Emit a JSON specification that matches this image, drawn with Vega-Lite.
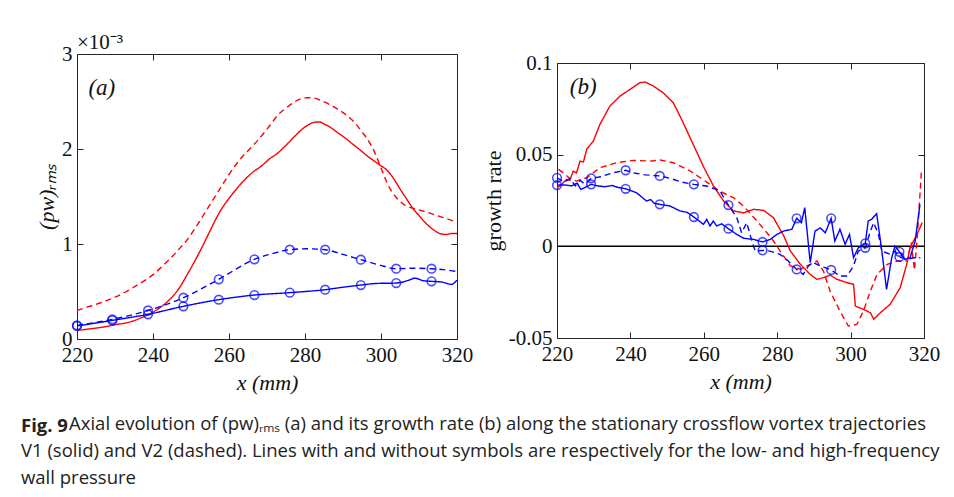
{
  "$schema": "https://vega.github.io/schema/vega-lite/v6.json",
  "padding": {"left": 21, "top": 31, "right": 5, "bottom": 5},
  "autosize": {"type": "pad"},
  "background": "white",
  "config": {
    "font": "Liberation Serif",
    "view": {"stroke": "#262626", "strokeWidth": 1},
    "axis": {
      "grid": false, "domain": false,
      "tickColor": "#262626", "tickSize": -6, "tickWidth": 1,
      "labelFont": "Liberation Serif", "labelFontSize": 21, "labelColor": "#111", "labelFlush": false,
      "titleFont": "Liberation Serif", "titleFontSize": 22, "titleFontWeight": "normal", "titleColor": "#111"
    },
    "axisX": {"labelPadding": 11, "titlePadding": 7},
    "axisY": {"labelPadding": 11, "titlePadding": 3}
  },
  "datasets": {
    "a_lines": [
      {"x_mm": 220, "prms_1e3": 0.09, "vortex": "V1", "frequency": "high"},
      {"x_mm": 223, "prms_1e3": 0.105, "vortex": "V1", "frequency": "high"},
      {"x_mm": 226.9, "prms_1e3": 0.126, "vortex": "V1", "frequency": "high"},
      {"x_mm": 230, "prms_1e3": 0.15, "vortex": "V1", "frequency": "high"},
      {"x_mm": 234, "prms_1e3": 0.18, "vortex": "V1", "frequency": "high"},
      {"x_mm": 237, "prms_1e3": 0.225, "vortex": "V1", "frequency": "high"},
      {"x_mm": 240.1, "prms_1e3": 0.285, "vortex": "V1", "frequency": "high"},
      {"x_mm": 242.5, "prms_1e3": 0.35, "vortex": "V1", "frequency": "high"},
      {"x_mm": 244.5, "prms_1e3": 0.42, "vortex": "V1", "frequency": "high"},
      {"x_mm": 246.8, "prms_1e3": 0.53, "vortex": "V1", "frequency": "high"},
      {"x_mm": 248.9, "prms_1e3": 0.67, "vortex": "V1", "frequency": "high"},
      {"x_mm": 251, "prms_1e3": 0.82, "vortex": "V1", "frequency": "high"},
      {"x_mm": 253.2, "prms_1e3": 0.99, "vortex": "V1", "frequency": "high"},
      {"x_mm": 255.4, "prms_1e3": 1.17, "vortex": "V1", "frequency": "high"},
      {"x_mm": 257.6, "prms_1e3": 1.34, "vortex": "V1", "frequency": "high"},
      {"x_mm": 260, "prms_1e3": 1.48, "vortex": "V1", "frequency": "high"},
      {"x_mm": 262, "prms_1e3": 1.58, "vortex": "V1", "frequency": "high"},
      {"x_mm": 264.2, "prms_1e3": 1.68, "vortex": "V1", "frequency": "high"},
      {"x_mm": 266.4, "prms_1e3": 1.76, "vortex": "V1", "frequency": "high"},
      {"x_mm": 268.5, "prms_1e3": 1.82, "vortex": "V1", "frequency": "high"},
      {"x_mm": 270.8, "prms_1e3": 1.9, "vortex": "V1", "frequency": "high"},
      {"x_mm": 272.6, "prms_1e3": 1.95, "vortex": "V1", "frequency": "high"},
      {"x_mm": 275, "prms_1e3": 2.04, "vortex": "V1", "frequency": "high"},
      {"x_mm": 277.2, "prms_1e3": 2.13, "vortex": "V1", "frequency": "high"},
      {"x_mm": 279, "prms_1e3": 2.2, "vortex": "V1", "frequency": "high"},
      {"x_mm": 280.7, "prms_1e3": 2.25, "vortex": "V1", "frequency": "high"},
      {"x_mm": 282.3, "prms_1e3": 2.28, "vortex": "V1", "frequency": "high"},
      {"x_mm": 283.7, "prms_1e3": 2.285, "vortex": "V1", "frequency": "high"},
      {"x_mm": 285.2, "prms_1e3": 2.26, "vortex": "V1", "frequency": "high"},
      {"x_mm": 286.6, "prms_1e3": 2.23, "vortex": "V1", "frequency": "high"},
      {"x_mm": 288.3, "prms_1e3": 2.18, "vortex": "V1", "frequency": "high"},
      {"x_mm": 290.1, "prms_1e3": 2.13, "vortex": "V1", "frequency": "high"},
      {"x_mm": 292.3, "prms_1e3": 2.06, "vortex": "V1", "frequency": "high"},
      {"x_mm": 294.5, "prms_1e3": 1.99, "vortex": "V1", "frequency": "high"},
      {"x_mm": 296.3, "prms_1e3": 1.93, "vortex": "V1", "frequency": "high"},
      {"x_mm": 298, "prms_1e3": 1.88, "vortex": "V1", "frequency": "high"},
      {"x_mm": 299.7, "prms_1e3": 1.83, "vortex": "V1", "frequency": "high"},
      {"x_mm": 301.5, "prms_1e3": 1.78, "vortex": "V1", "frequency": "high"},
      {"x_mm": 303.3, "prms_1e3": 1.69, "vortex": "V1", "frequency": "high"},
      {"x_mm": 305, "prms_1e3": 1.58, "vortex": "V1", "frequency": "high"},
      {"x_mm": 306.8, "prms_1e3": 1.47, "vortex": "V1", "frequency": "high"},
      {"x_mm": 308.5, "prms_1e3": 1.37, "vortex": "V1", "frequency": "high"},
      {"x_mm": 310.2, "prms_1e3": 1.29, "vortex": "V1", "frequency": "high"},
      {"x_mm": 312, "prms_1e3": 1.21, "vortex": "V1", "frequency": "high"},
      {"x_mm": 313.8, "prms_1e3": 1.15, "vortex": "V1", "frequency": "high"},
      {"x_mm": 315.5, "prms_1e3": 1.11, "vortex": "V1", "frequency": "high"},
      {"x_mm": 317.3, "prms_1e3": 1.1, "vortex": "V1", "frequency": "high"},
      {"x_mm": 318.5, "prms_1e3": 1.11, "vortex": "V1", "frequency": "high"},
      {"x_mm": 320, "prms_1e3": 1.11, "vortex": "V1", "frequency": "high"},

      {"x_mm": 220, "prms_1e3": 0.3, "vortex": "V2", "frequency": "high"},
      {"x_mm": 223, "prms_1e3": 0.34, "vortex": "V2", "frequency": "high"},
      {"x_mm": 226.9, "prms_1e3": 0.39, "vortex": "V2", "frequency": "high"},
      {"x_mm": 230, "prms_1e3": 0.44, "vortex": "V2", "frequency": "high"},
      {"x_mm": 233, "prms_1e3": 0.5, "vortex": "V2", "frequency": "high"},
      {"x_mm": 235.7, "prms_1e3": 0.565, "vortex": "V2", "frequency": "high"},
      {"x_mm": 238, "prms_1e3": 0.62, "vortex": "V2", "frequency": "high"},
      {"x_mm": 240.1, "prms_1e3": 0.68, "vortex": "V2", "frequency": "high"},
      {"x_mm": 242.3, "prms_1e3": 0.76, "vortex": "V2", "frequency": "high"},
      {"x_mm": 244.5, "prms_1e3": 0.845, "vortex": "V2", "frequency": "high"},
      {"x_mm": 246.7, "prms_1e3": 0.94, "vortex": "V2", "frequency": "high"},
      {"x_mm": 248.9, "prms_1e3": 1.04, "vortex": "V2", "frequency": "high"},
      {"x_mm": 251, "prms_1e3": 1.16, "vortex": "V2", "frequency": "high"},
      {"x_mm": 253.2, "prms_1e3": 1.3, "vortex": "V2", "frequency": "high"},
      {"x_mm": 255.4, "prms_1e3": 1.44, "vortex": "V2", "frequency": "high"},
      {"x_mm": 257.6, "prms_1e3": 1.58, "vortex": "V2", "frequency": "high"},
      {"x_mm": 259.8, "prms_1e3": 1.72, "vortex": "V2", "frequency": "high"},
      {"x_mm": 262, "prms_1e3": 1.845, "vortex": "V2", "frequency": "high"},
      {"x_mm": 264.2, "prms_1e3": 1.95, "vortex": "V2", "frequency": "high"},
      {"x_mm": 266.4, "prms_1e3": 2.04, "vortex": "V2", "frequency": "high"},
      {"x_mm": 268.6, "prms_1e3": 2.14, "vortex": "V2", "frequency": "high"},
      {"x_mm": 270.8, "prms_1e3": 2.25, "vortex": "V2", "frequency": "high"},
      {"x_mm": 272.8, "prms_1e3": 2.355, "vortex": "V2", "frequency": "high"},
      {"x_mm": 275, "prms_1e3": 2.43, "vortex": "V2", "frequency": "high"},
      {"x_mm": 277.2, "prms_1e3": 2.495, "vortex": "V2", "frequency": "high"},
      {"x_mm": 279, "prms_1e3": 2.53, "vortex": "V2", "frequency": "high"},
      {"x_mm": 280.7, "prms_1e3": 2.54, "vortex": "V2", "frequency": "high"},
      {"x_mm": 282.5, "prms_1e3": 2.535, "vortex": "V2", "frequency": "high"},
      {"x_mm": 284.2, "prms_1e3": 2.51, "vortex": "V2", "frequency": "high"},
      {"x_mm": 286.4, "prms_1e3": 2.47, "vortex": "V2", "frequency": "high"},
      {"x_mm": 288.6, "prms_1e3": 2.42, "vortex": "V2", "frequency": "high"},
      {"x_mm": 290.8, "prms_1e3": 2.36, "vortex": "V2", "frequency": "high"},
      {"x_mm": 293, "prms_1e3": 2.28, "vortex": "V2", "frequency": "high"},
      {"x_mm": 295, "prms_1e3": 2.18, "vortex": "V2", "frequency": "high"},
      {"x_mm": 297.1, "prms_1e3": 2.06, "vortex": "V2", "frequency": "high"},
      {"x_mm": 298.5, "prms_1e3": 1.95, "vortex": "V2", "frequency": "high"},
      {"x_mm": 299.7, "prms_1e3": 1.83, "vortex": "V2", "frequency": "high"},
      {"x_mm": 301, "prms_1e3": 1.7, "vortex": "V2", "frequency": "high"},
      {"x_mm": 302.4, "prms_1e3": 1.58, "vortex": "V2", "frequency": "high"},
      {"x_mm": 304, "prms_1e3": 1.49, "vortex": "V2", "frequency": "high"},
      {"x_mm": 305.9, "prms_1e3": 1.42, "vortex": "V2", "frequency": "high"},
      {"x_mm": 308, "prms_1e3": 1.38, "vortex": "V2", "frequency": "high"},
      {"x_mm": 310.3, "prms_1e3": 1.355, "vortex": "V2", "frequency": "high"},
      {"x_mm": 312.5, "prms_1e3": 1.33, "vortex": "V2", "frequency": "high"},
      {"x_mm": 314.7, "prms_1e3": 1.3, "vortex": "V2", "frequency": "high"},
      {"x_mm": 317, "prms_1e3": 1.27, "vortex": "V2", "frequency": "high"},
      {"x_mm": 320, "prms_1e3": 1.23, "vortex": "V2", "frequency": "high"},

      {"x_mm": 220, "prms_1e3": 0.137, "vortex": "V1", "frequency": "low"},
      {"x_mm": 229.3, "prms_1e3": 0.196, "vortex": "V1", "frequency": "low"},
      {"x_mm": 238.7, "prms_1e3": 0.26, "vortex": "V1", "frequency": "low"},
      {"x_mm": 248, "prms_1e3": 0.344, "vortex": "V1", "frequency": "low"},
      {"x_mm": 257.3, "prms_1e3": 0.414, "vortex": "V1", "frequency": "low"},
      {"x_mm": 266.7, "prms_1e3": 0.463, "vortex": "V1", "frequency": "low"},
      {"x_mm": 276, "prms_1e3": 0.488, "vortex": "V1", "frequency": "low"},
      {"x_mm": 285.3, "prms_1e3": 0.519, "vortex": "V1", "frequency": "low"},
      {"x_mm": 290, "prms_1e3": 0.545, "vortex": "V1", "frequency": "low"},
      {"x_mm": 294.7, "prms_1e3": 0.568, "vortex": "V1", "frequency": "low"},
      {"x_mm": 299, "prms_1e3": 0.585, "vortex": "V1", "frequency": "low"},
      {"x_mm": 304, "prms_1e3": 0.589, "vortex": "V1", "frequency": "low"},
      {"x_mm": 307, "prms_1e3": 0.615, "vortex": "V1", "frequency": "low"},
      {"x_mm": 309, "prms_1e3": 0.64, "vortex": "V1", "frequency": "low"},
      {"x_mm": 311, "prms_1e3": 0.615, "vortex": "V1", "frequency": "low"},
      {"x_mm": 313.3, "prms_1e3": 0.607, "vortex": "V1", "frequency": "low"},
      {"x_mm": 316, "prms_1e3": 0.6, "vortex": "V1", "frequency": "low"},
      {"x_mm": 318.5, "prms_1e3": 0.575, "vortex": "V1", "frequency": "low"},
      {"x_mm": 320, "prms_1e3": 0.62, "vortex": "V1", "frequency": "low"},

      {"x_mm": 220, "prms_1e3": 0.144, "vortex": "V2", "frequency": "low"},
      {"x_mm": 229.3, "prms_1e3": 0.207, "vortex": "V2", "frequency": "low"},
      {"x_mm": 238.7, "prms_1e3": 0.3, "vortex": "V2", "frequency": "low"},
      {"x_mm": 248, "prms_1e3": 0.435, "vortex": "V2", "frequency": "low"},
      {"x_mm": 257.3, "prms_1e3": 0.628, "vortex": "V2", "frequency": "low"},
      {"x_mm": 266.7, "prms_1e3": 0.839, "vortex": "V2", "frequency": "low"},
      {"x_mm": 271.5, "prms_1e3": 0.9, "vortex": "V2", "frequency": "low"},
      {"x_mm": 276, "prms_1e3": 0.94, "vortex": "V2", "frequency": "low"},
      {"x_mm": 280.5, "prms_1e3": 0.95, "vortex": "V2", "frequency": "low"},
      {"x_mm": 285.3, "prms_1e3": 0.94, "vortex": "V2", "frequency": "low"},
      {"x_mm": 290, "prms_1e3": 0.89, "vortex": "V2", "frequency": "low"},
      {"x_mm": 294.7, "prms_1e3": 0.835, "vortex": "V2", "frequency": "low"},
      {"x_mm": 299.5, "prms_1e3": 0.78, "vortex": "V2", "frequency": "low"},
      {"x_mm": 304, "prms_1e3": 0.74, "vortex": "V2", "frequency": "low"},
      {"x_mm": 308.5, "prms_1e3": 0.745, "vortex": "V2", "frequency": "low"},
      {"x_mm": 313.3, "prms_1e3": 0.74, "vortex": "V2", "frequency": "low"},
      {"x_mm": 316.5, "prms_1e3": 0.73, "vortex": "V2", "frequency": "low"},
      {"x_mm": 320, "prms_1e3": 0.71, "vortex": "V2", "frequency": "low"}
    ],
    "a_markers": [
      {"x_mm": 220, "prms_1e3": 0.137, "vortex": "V1"},
      {"x_mm": 229.3, "prms_1e3": 0.196, "vortex": "V1"},
      {"x_mm": 238.7, "prms_1e3": 0.26, "vortex": "V1"},
      {"x_mm": 248, "prms_1e3": 0.344, "vortex": "V1"},
      {"x_mm": 257.3, "prms_1e3": 0.414, "vortex": "V1"},
      {"x_mm": 266.7, "prms_1e3": 0.463, "vortex": "V1"},
      {"x_mm": 276, "prms_1e3": 0.488, "vortex": "V1"},
      {"x_mm": 285.3, "prms_1e3": 0.519, "vortex": "V1"},
      {"x_mm": 294.7, "prms_1e3": 0.568, "vortex": "V1"},
      {"x_mm": 304, "prms_1e3": 0.589, "vortex": "V1"},
      {"x_mm": 313.3, "prms_1e3": 0.607, "vortex": "V1"},
      {"x_mm": 220, "prms_1e3": 0.144, "vortex": "V2"},
      {"x_mm": 229.3, "prms_1e3": 0.207, "vortex": "V2"},
      {"x_mm": 238.7, "prms_1e3": 0.3, "vortex": "V2"},
      {"x_mm": 248, "prms_1e3": 0.435, "vortex": "V2"},
      {"x_mm": 257.3, "prms_1e3": 0.628, "vortex": "V2"},
      {"x_mm": 266.7, "prms_1e3": 0.839, "vortex": "V2"},
      {"x_mm": 276, "prms_1e3": 0.94, "vortex": "V2"},
      {"x_mm": 285.3, "prms_1e3": 0.94, "vortex": "V2"},
      {"x_mm": 294.7, "prms_1e3": 0.835, "vortex": "V2"},
      {"x_mm": 304, "prms_1e3": 0.74, "vortex": "V2"},
      {"x_mm": 313.3, "prms_1e3": 0.74, "vortex": "V2"}
    ],
    "a_label": [{"x_mm": 223, "prms_1e3": 2.64, "label": "(a)"}],
    "b_lines": [
      {"x_mm": 220, "rate": 0.032, "vortex": "V1", "frequency": "high"},
      {"x_mm": 220.8, "rate": 0.0329, "vortex": "V1", "frequency": "high"},
      {"x_mm": 222.6, "rate": 0.0365, "vortex": "V1", "frequency": "high"},
      {"x_mm": 223.5, "rate": 0.036, "vortex": "V1", "frequency": "high"},
      {"x_mm": 224.4, "rate": 0.041, "vortex": "V1", "frequency": "high"},
      {"x_mm": 225.3, "rate": 0.04, "vortex": "V1", "frequency": "high"},
      {"x_mm": 226.3, "rate": 0.0465, "vortex": "V1", "frequency": "high"},
      {"x_mm": 227.2, "rate": 0.046, "vortex": "V1", "frequency": "high"},
      {"x_mm": 228.1, "rate": 0.053, "vortex": "V1", "frequency": "high"},
      {"x_mm": 229.9, "rate": 0.0574, "vortex": "V1", "frequency": "high"},
      {"x_mm": 231.7, "rate": 0.0665, "vortex": "V1", "frequency": "high"},
      {"x_mm": 234.4, "rate": 0.0765, "vortex": "V1", "frequency": "high"},
      {"x_mm": 237.2, "rate": 0.082, "vortex": "V1", "frequency": "high"},
      {"x_mm": 239.9, "rate": 0.0856, "vortex": "V1", "frequency": "high"},
      {"x_mm": 242.6, "rate": 0.0893, "vortex": "V1", "frequency": "high"},
      {"x_mm": 244, "rate": 0.0896, "vortex": "V1", "frequency": "high"},
      {"x_mm": 246.2, "rate": 0.0875, "vortex": "V1", "frequency": "high"},
      {"x_mm": 248.9, "rate": 0.0838, "vortex": "V1", "frequency": "high"},
      {"x_mm": 251.7, "rate": 0.0783, "vortex": "V1", "frequency": "high"},
      {"x_mm": 254.4, "rate": 0.0674, "vortex": "V1", "frequency": "high"},
      {"x_mm": 257.1, "rate": 0.0556, "vortex": "V1", "frequency": "high"},
      {"x_mm": 259.9, "rate": 0.0435, "vortex": "V1", "frequency": "high"},
      {"x_mm": 262.6, "rate": 0.033, "vortex": "V1", "frequency": "high"},
      {"x_mm": 265.4, "rate": 0.0247, "vortex": "V1", "frequency": "high"},
      {"x_mm": 268.1, "rate": 0.0193, "vortex": "V1", "frequency": "high"},
      {"x_mm": 270.8, "rate": 0.0183, "vortex": "V1", "frequency": "high"},
      {"x_mm": 273.6, "rate": 0.0202, "vortex": "V1", "frequency": "high"},
      {"x_mm": 276.3, "rate": 0.0196, "vortex": "V1", "frequency": "high"},
      {"x_mm": 279, "rate": 0.0156, "vortex": "V1", "frequency": "high"},
      {"x_mm": 281.8, "rate": 0.0056, "vortex": "V1", "frequency": "high"},
      {"x_mm": 283.6, "rate": -0.0026, "vortex": "V1", "frequency": "high"},
      {"x_mm": 286.3, "rate": -0.0098, "vortex": "V1", "frequency": "high"},
      {"x_mm": 289, "rate": -0.0153, "vortex": "V1", "frequency": "high"},
      {"x_mm": 290.8, "rate": -0.018, "vortex": "V1", "frequency": "high"},
      {"x_mm": 292.6, "rate": -0.0171, "vortex": "V1", "frequency": "high"},
      {"x_mm": 294.4, "rate": -0.0157, "vortex": "V1", "frequency": "high"},
      {"x_mm": 296.3, "rate": -0.018, "vortex": "V1", "frequency": "high"},
      {"x_mm": 299, "rate": -0.0198, "vortex": "V1", "frequency": "high"},
      {"x_mm": 300.8, "rate": -0.0207, "vortex": "V1", "frequency": "high"},
      {"x_mm": 301.3, "rate": -0.0326, "vortex": "V1", "frequency": "high"},
      {"x_mm": 303.5, "rate": -0.0344, "vortex": "V1", "frequency": "high"},
      {"x_mm": 305.4, "rate": -0.0362, "vortex": "V1", "frequency": "high"},
      {"x_mm": 306.3, "rate": -0.0398, "vortex": "V1", "frequency": "high"},
      {"x_mm": 308.1, "rate": -0.0362, "vortex": "V1", "frequency": "high"},
      {"x_mm": 310.8, "rate": -0.0316, "vortex": "V1", "frequency": "high"},
      {"x_mm": 313.5, "rate": -0.0226, "vortex": "V1", "frequency": "high"},
      {"x_mm": 315.3, "rate": -0.0098, "vortex": "V1", "frequency": "high"},
      {"x_mm": 316.2, "rate": -0.0008, "vortex": "V1", "frequency": "high"},
      {"x_mm": 317.6, "rate": 0.0047, "vortex": "V1", "frequency": "high"},
      {"x_mm": 318.9, "rate": 0.0101, "vortex": "V1", "frequency": "high"},
      {"x_mm": 319.5, "rate": 0.013, "vortex": "V1", "frequency": "high"},

      {"x_mm": 220.4, "rate": 0.042, "vortex": "V2", "frequency": "high"},
      {"x_mm": 221.8, "rate": 0.04, "vortex": "V2", "frequency": "high"},
      {"x_mm": 223.5, "rate": 0.037, "vortex": "V2", "frequency": "high"},
      {"x_mm": 225.3, "rate": 0.0356, "vortex": "V2", "frequency": "high"},
      {"x_mm": 228.1, "rate": 0.0374, "vortex": "V2", "frequency": "high"},
      {"x_mm": 231.7, "rate": 0.0429, "vortex": "V2", "frequency": "high"},
      {"x_mm": 236.3, "rate": 0.0456, "vortex": "V2", "frequency": "high"},
      {"x_mm": 240.8, "rate": 0.0469, "vortex": "V2", "frequency": "high"},
      {"x_mm": 245.4, "rate": 0.0465, "vortex": "V2", "frequency": "high"},
      {"x_mm": 248.1, "rate": 0.0471, "vortex": "V2", "frequency": "high"},
      {"x_mm": 251.7, "rate": 0.0456, "vortex": "V2", "frequency": "high"},
      {"x_mm": 256.3, "rate": 0.0411, "vortex": "V2", "frequency": "high"},
      {"x_mm": 260.8, "rate": 0.035, "vortex": "V2", "frequency": "high"},
      {"x_mm": 264.4, "rate": 0.03, "vortex": "V2", "frequency": "high"},
      {"x_mm": 268.1, "rate": 0.0265, "vortex": "V2", "frequency": "high"},
      {"x_mm": 270.8, "rate": 0.022, "vortex": "V2", "frequency": "high"},
      {"x_mm": 274.5, "rate": 0.0138, "vortex": "V2", "frequency": "high"},
      {"x_mm": 277.2, "rate": 0.0074, "vortex": "V2", "frequency": "high"},
      {"x_mm": 279, "rate": 0.0029, "vortex": "V2", "frequency": "high"},
      {"x_mm": 280.8, "rate": -0.0026, "vortex": "V2", "frequency": "high"},
      {"x_mm": 283.6, "rate": -0.0107, "vortex": "V2", "frequency": "high"},
      {"x_mm": 286.3, "rate": -0.0125, "vortex": "V2", "frequency": "high"},
      {"x_mm": 289, "rate": -0.0098, "vortex": "V2", "frequency": "high"},
      {"x_mm": 290.8, "rate": -0.008, "vortex": "V2", "frequency": "high"},
      {"x_mm": 292.6, "rate": -0.0135, "vortex": "V2", "frequency": "high"},
      {"x_mm": 294.4, "rate": -0.0244, "vortex": "V2", "frequency": "high"},
      {"x_mm": 297.1, "rate": -0.0353, "vortex": "V2", "frequency": "high"},
      {"x_mm": 299.4, "rate": -0.0435, "vortex": "V2", "frequency": "high"},
      {"x_mm": 301.7, "rate": -0.0426, "vortex": "V2", "frequency": "high"},
      {"x_mm": 303.5, "rate": -0.0353, "vortex": "V2", "frequency": "high"},
      {"x_mm": 305.4, "rate": -0.0244, "vortex": "V2", "frequency": "high"},
      {"x_mm": 307.2, "rate": -0.0153, "vortex": "V2", "frequency": "high"},
      {"x_mm": 310, "rate": -0.0098, "vortex": "V2", "frequency": "high"},
      {"x_mm": 312.7, "rate": -0.008, "vortex": "V2", "frequency": "high"},
      {"x_mm": 315.4, "rate": -0.008, "vortex": "V2", "frequency": "high"},
      {"x_mm": 316.5, "rate": 0.002, "vortex": "V2", "frequency": "high"},
      {"x_mm": 317.4, "rate": -0.013, "vortex": "V2", "frequency": "high"},
      {"x_mm": 318.2, "rate": 0.006, "vortex": "V2", "frequency": "high"},
      {"x_mm": 319.3, "rate": 0.041, "vortex": "V2", "frequency": "high"},

      {"x_mm": 220, "rate": 0.0334, "vortex": "V1", "frequency": "low"},
      {"x_mm": 222, "rate": 0.0335, "vortex": "V1", "frequency": "low"},
      {"x_mm": 224, "rate": 0.033, "vortex": "V1", "frequency": "low"},
      {"x_mm": 225.5, "rate": 0.0345, "vortex": "V1", "frequency": "low"},
      {"x_mm": 226.5, "rate": 0.031, "vortex": "V1", "frequency": "low"},
      {"x_mm": 229.3, "rate": 0.0338, "vortex": "V1", "frequency": "low"},
      {"x_mm": 231, "rate": 0.033, "vortex": "V1", "frequency": "low"},
      {"x_mm": 233, "rate": 0.0325, "vortex": "V1", "frequency": "low"},
      {"x_mm": 235, "rate": 0.0332, "vortex": "V1", "frequency": "low"},
      {"x_mm": 236.5, "rate": 0.0322, "vortex": "V1", "frequency": "low"},
      {"x_mm": 238.7, "rate": 0.0314, "vortex": "V1", "frequency": "low"},
      {"x_mm": 241.7, "rate": 0.0292, "vortex": "V1", "frequency": "low"},
      {"x_mm": 244.4, "rate": 0.0247, "vortex": "V1", "frequency": "low"},
      {"x_mm": 245.5, "rate": 0.0255, "vortex": "V1", "frequency": "low"},
      {"x_mm": 246.5, "rate": 0.0235, "vortex": "V1", "frequency": "low"},
      {"x_mm": 248, "rate": 0.0229, "vortex": "V1", "frequency": "low"},
      {"x_mm": 250.8, "rate": 0.022, "vortex": "V1", "frequency": "low"},
      {"x_mm": 253.5, "rate": 0.0193, "vortex": "V1", "frequency": "low"},
      {"x_mm": 255.5, "rate": 0.0185, "vortex": "V1", "frequency": "low"},
      {"x_mm": 257.3, "rate": 0.016, "vortex": "V1", "frequency": "low"},
      {"x_mm": 259.9, "rate": 0.012, "vortex": "V1", "frequency": "low"},
      {"x_mm": 260.8, "rate": 0.0147, "vortex": "V1", "frequency": "low"},
      {"x_mm": 261.7, "rate": 0.0111, "vortex": "V1", "frequency": "low"},
      {"x_mm": 262.6, "rate": 0.0138, "vortex": "V1", "frequency": "low"},
      {"x_mm": 263.5, "rate": 0.0111, "vortex": "V1", "frequency": "low"},
      {"x_mm": 264.9, "rate": 0.0123, "vortex": "V1", "frequency": "low"},
      {"x_mm": 266.7, "rate": 0.0096, "vortex": "V1", "frequency": "low"},
      {"x_mm": 269, "rate": 0.0065, "vortex": "V1", "frequency": "low"},
      {"x_mm": 270.8, "rate": 0.0044, "vortex": "V1", "frequency": "low"},
      {"x_mm": 273.6, "rate": 0.0038, "vortex": "V1", "frequency": "low"},
      {"x_mm": 275, "rate": 0.0029, "vortex": "V1", "frequency": "low"},
      {"x_mm": 276, "rate": 0.0024, "vortex": "V1", "frequency": "low"},
      {"x_mm": 278.1, "rate": 0.0038, "vortex": "V1", "frequency": "low"},
      {"x_mm": 279.9, "rate": 0.0065, "vortex": "V1", "frequency": "low"},
      {"x_mm": 281.7, "rate": 0.0083, "vortex": "V1", "frequency": "low"},
      {"x_mm": 284, "rate": 0.0093, "vortex": "V1", "frequency": "low"},
      {"x_mm": 285.3, "rate": 0.0153, "vortex": "V1", "frequency": "low"},
      {"x_mm": 286.6, "rate": 0.0129, "vortex": "V1", "frequency": "low"},
      {"x_mm": 287.5, "rate": 0.0211, "vortex": "V1", "frequency": "low"},
      {"x_mm": 289, "rate": -0.0089, "vortex": "V1", "frequency": "low"},
      {"x_mm": 290.3, "rate": 0.0083, "vortex": "V1", "frequency": "low"},
      {"x_mm": 291.7, "rate": 0.0101, "vortex": "V1", "frequency": "low"},
      {"x_mm": 293.1, "rate": 0.0074, "vortex": "V1", "frequency": "low"},
      {"x_mm": 294.7, "rate": 0.0153, "vortex": "V1", "frequency": "low"},
      {"x_mm": 295.7, "rate": 0.0029, "vortex": "V1", "frequency": "low"},
      {"x_mm": 297.1, "rate": 0.0093, "vortex": "V1", "frequency": "low"},
      {"x_mm": 298.5, "rate": 0.0011, "vortex": "V1", "frequency": "low"},
      {"x_mm": 299.7, "rate": 0.0065, "vortex": "V1", "frequency": "low"},
      {"x_mm": 300.8, "rate": -0.0062, "vortex": "V1", "frequency": "low"},
      {"x_mm": 302.1, "rate": -0.0008, "vortex": "V1", "frequency": "low"},
      {"x_mm": 304, "rate": 0.0016, "vortex": "V1", "frequency": "low"},
      {"x_mm": 304.8, "rate": 0.0138, "vortex": "V1", "frequency": "low"},
      {"x_mm": 305.7, "rate": 0.0147, "vortex": "V1", "frequency": "low"},
      {"x_mm": 307.1, "rate": 0.0178, "vortex": "V1", "frequency": "low"},
      {"x_mm": 308.4, "rate": -0.0008, "vortex": "V1", "frequency": "low"},
      {"x_mm": 309.8, "rate": -0.0235, "vortex": "V1", "frequency": "low"},
      {"x_mm": 311.2, "rate": -0.0062, "vortex": "V1", "frequency": "low"},
      {"x_mm": 312.1, "rate": 0.0002, "vortex": "V1", "frequency": "low"},
      {"x_mm": 313.3, "rate": -0.003, "vortex": "V1", "frequency": "low"},
      {"x_mm": 314.8, "rate": -0.0071, "vortex": "V1", "frequency": "low"},
      {"x_mm": 316.2, "rate": -0.0062, "vortex": "V1", "frequency": "low"},
      {"x_mm": 317.6, "rate": 0.0029, "vortex": "V1", "frequency": "low"},
      {"x_mm": 318.9, "rate": 0.0229, "vortex": "V1", "frequency": "low"},

      {"x_mm": 220, "rate": 0.0374, "vortex": "V2", "frequency": "low"},
      {"x_mm": 222, "rate": 0.035, "vortex": "V2", "frequency": "low"},
      {"x_mm": 223.5, "rate": 0.037, "vortex": "V2", "frequency": "low"},
      {"x_mm": 225, "rate": 0.033, "vortex": "V2", "frequency": "low"},
      {"x_mm": 226.3, "rate": 0.036, "vortex": "V2", "frequency": "low"},
      {"x_mm": 227.5, "rate": 0.034, "vortex": "V2", "frequency": "low"},
      {"x_mm": 229.3, "rate": 0.0371, "vortex": "V2", "frequency": "low"},
      {"x_mm": 232, "rate": 0.038, "vortex": "V2", "frequency": "low"},
      {"x_mm": 235, "rate": 0.04, "vortex": "V2", "frequency": "low"},
      {"x_mm": 238.7, "rate": 0.0415, "vortex": "V2", "frequency": "low"},
      {"x_mm": 241, "rate": 0.04, "vortex": "V2", "frequency": "low"},
      {"x_mm": 244, "rate": 0.039, "vortex": "V2", "frequency": "low"},
      {"x_mm": 248, "rate": 0.0384, "vortex": "V2", "frequency": "low"},
      {"x_mm": 251, "rate": 0.037, "vortex": "V2", "frequency": "low"},
      {"x_mm": 254, "rate": 0.035, "vortex": "V2", "frequency": "low"},
      {"x_mm": 257.3, "rate": 0.0338, "vortex": "V2", "frequency": "low"},
      {"x_mm": 260.8, "rate": 0.0329, "vortex": "V2", "frequency": "low"},
      {"x_mm": 264.4, "rate": 0.0302, "vortex": "V2", "frequency": "low"},
      {"x_mm": 266.7, "rate": 0.0225, "vortex": "V2", "frequency": "low"},
      {"x_mm": 269, "rate": 0.0156, "vortex": "V2", "frequency": "low"},
      {"x_mm": 270.3, "rate": 0.0074, "vortex": "V2", "frequency": "low"},
      {"x_mm": 271.7, "rate": 0.0129, "vortex": "V2", "frequency": "low"},
      {"x_mm": 273.1, "rate": 0.0029, "vortex": "V2", "frequency": "low"},
      {"x_mm": 274, "rate": -0.0026, "vortex": "V2", "frequency": "low"},
      {"x_mm": 276, "rate": -0.0022, "vortex": "V2", "frequency": "low"},
      {"x_mm": 278, "rate": -0.0026, "vortex": "V2", "frequency": "low"},
      {"x_mm": 280.8, "rate": -0.0044, "vortex": "V2", "frequency": "low"},
      {"x_mm": 283, "rate": -0.008, "vortex": "V2", "frequency": "low"},
      {"x_mm": 285.3, "rate": -0.0126, "vortex": "V2", "frequency": "low"},
      {"x_mm": 287.1, "rate": -0.0153, "vortex": "V2", "frequency": "low"},
      {"x_mm": 288.5, "rate": -0.0107, "vortex": "V2", "frequency": "low"},
      {"x_mm": 289.9, "rate": -0.0089, "vortex": "V2", "frequency": "low"},
      {"x_mm": 291.7, "rate": -0.0107, "vortex": "V2", "frequency": "low"},
      {"x_mm": 294.7, "rate": -0.0129, "vortex": "V2", "frequency": "low"},
      {"x_mm": 297.1, "rate": -0.0162, "vortex": "V2", "frequency": "low"},
      {"x_mm": 299, "rate": -0.0162, "vortex": "V2", "frequency": "low"},
      {"x_mm": 300.8, "rate": -0.0107, "vortex": "V2", "frequency": "low"},
      {"x_mm": 302.1, "rate": -0.0026, "vortex": "V2", "frequency": "low"},
      {"x_mm": 304, "rate": -0.0008, "vortex": "V2", "frequency": "low"},
      {"x_mm": 305.4, "rate": 0.0083, "vortex": "V2", "frequency": "low"},
      {"x_mm": 306.3, "rate": 0.0129, "vortex": "V2", "frequency": "low"},
      {"x_mm": 307.6, "rate": 0.0065, "vortex": "V2", "frequency": "low"},
      {"x_mm": 308.5, "rate": -0.0026, "vortex": "V2", "frequency": "low"},
      {"x_mm": 310.8, "rate": -0.0044, "vortex": "V2", "frequency": "low"},
      {"x_mm": 312.1, "rate": -0.0026, "vortex": "V2", "frequency": "low"},
      {"x_mm": 313.3, "rate": -0.0058, "vortex": "V2", "frequency": "low"},
      {"x_mm": 315.4, "rate": -0.0071, "vortex": "V2", "frequency": "low"},
      {"x_mm": 317.2, "rate": -0.0062, "vortex": "V2", "frequency": "low"},
      {"x_mm": 319, "rate": -0.0062, "vortex": "V2", "frequency": "low"}
    ],
    "b_markers": [
      {"x_mm": 220, "rate": 0.0334, "vortex": "V1"},
      {"x_mm": 229.3, "rate": 0.0338, "vortex": "V1"},
      {"x_mm": 238.7, "rate": 0.0314, "vortex": "V1"},
      {"x_mm": 248, "rate": 0.0229, "vortex": "V1"},
      {"x_mm": 257.3, "rate": 0.016, "vortex": "V1"},
      {"x_mm": 266.7, "rate": 0.0096, "vortex": "V1"},
      {"x_mm": 276, "rate": 0.0024, "vortex": "V1"},
      {"x_mm": 285.3, "rate": 0.0153, "vortex": "V1"},
      {"x_mm": 294.7, "rate": 0.0153, "vortex": "V1"},
      {"x_mm": 304, "rate": 0.0016, "vortex": "V1"},
      {"x_mm": 313.3, "rate": -0.003, "vortex": "V1"},
      {"x_mm": 220, "rate": 0.0374, "vortex": "V2"},
      {"x_mm": 229.3, "rate": 0.0371, "vortex": "V2"},
      {"x_mm": 238.7, "rate": 0.0415, "vortex": "V2"},
      {"x_mm": 248, "rate": 0.0384, "vortex": "V2"},
      {"x_mm": 257.3, "rate": 0.0338, "vortex": "V2"},
      {"x_mm": 266.7, "rate": 0.0225, "vortex": "V2"},
      {"x_mm": 276, "rate": -0.0022, "vortex": "V2"},
      {"x_mm": 285.3, "rate": -0.0126, "vortex": "V2"},
      {"x_mm": 294.7, "rate": -0.0129, "vortex": "V2"},
      {"x_mm": 304, "rate": -0.0008, "vortex": "V2"},
      {"x_mm": 313.3, "rate": -0.0058, "vortex": "V2"}
    ],
    "b_label": [{"x_mm": 223.5, "rate": 0.0869, "label": "(b)"}],
    "b_zero": [{"rate": 0}]
  },
  "title": {
    "text": "Fig. 9",
    "subtitle": ["\u200c\u00a0\u00a0\u00a0\u00a0\u00a0\u00a0\u00a0\u00a0\u00a0\u00a0Axial evolution of (pw)ᵣₘₛ (a) and its growth rate (b) along the stationary crossflow vortex trajectories", "V1 (solid) and V2 (dashed). Lines with and without symbols are respectively for the low- and high-frequency", "wall pressure"],
    "orient": "bottom", "anchor": "start", "dx": -14, "offset": 23,
    "font": "Open Sans", "fontSize": 18.5, "fontWeight": "bold", "color": "#222",
    "subtitleFont": "Open Sans", "subtitleFontSize": 18.5, "subtitleColor": "#222", "subtitleLineHeight": 27, "subtitlePadding": -20.5
  },
  "hconcat": [
    {
      "width": 380, "height": 285,
      "title": {"text": "×10⁻³", "anchor": "start", "frame": "group", "fontSize": 21, "fontWeight": "normal", "font": "Liberation Serif", "color": "#111", "offset": -10},
      "layer": [
        {
          "data": {"name": "a_lines"},
          "mark": {"type": "line", "strokeWidth": 1.4, "interpolate": "monotone"},
          "encoding": {
            "x": {"field": "x_mm", "type": "quantitative", "scale": {"domain": [220, 320], "nice": false, "zero": false}, "axis": {"values": [220, 240, 260, 280, 300, 320], "title": "x (mm)", "titleFontStyle": "italic"}},
            "y": {"field": "prms_1e3", "type": "quantitative", "scale": {"domain": [0, 3], "nice": false}, "axis": {"values": [0, 1, 2, 3], "title": "(pw)ᵣₘₛ", "titleFontStyle": "italic"}},
            "color": {"field": "frequency", "type": "nominal", "scale": {"domain": ["high", "low"], "range": ["#ff0000", "#0000ff"]}, "legend": null},
            "strokeDash": {"field": "vortex", "type": "nominal", "scale": {"domain": ["V1", "V2"], "range": [[1, 0], [6, 4]]}, "legend": null}
          }
        },
        {
          "data": {"name": "a_markers"},
          "mark": {"type": "point", "shape": "circle", "filled": false, "size": 75, "strokeWidth": 1.6, "color": "#0000ff"},
          "encoding": {
            "x": {"field": "x_mm", "type": "quantitative", "axis": null},
            "y": {"field": "prms_1e3", "type": "quantitative", "axis": null}
          }
        },
        {
          "data": {"name": "a_label"},
          "mark": {"type": "text", "align": "left", "baseline": "middle", "fontSize": 23, "fontStyle": "italic", "font": "Liberation Serif", "color": "#111"},
          "encoding": {
            "x": {"field": "x_mm", "type": "quantitative", "axis": {"orient": "top", "labels": false, "title": null, "values": [220, 240, 260, 280, 300, 320]}},
            "y": {"field": "prms_1e3", "type": "quantitative", "axis": {"orient": "right", "labels": false, "title": null, "values": [0, 1, 2, 3]}},
            "text": {"field": "label"}
          }
        }
      ],
      "resolve": {"axis": {"x": "independent", "y": "independent"}}
    },
    {
      "spacing": -4,
      "vconcat": [
        {
          "width": 367, "height": 1,
          "data": {"values": []},
          "mark": {"type": "point", "opacity": 0},
          "view": {"stroke": null}
        },
        {
          "width": 367, "height": 275,
          "layer": [
            {
              "data": {"name": "b_zero"},
              "mark": {"type": "rule", "color": "#000", "strokeWidth": 1.5},
              "encoding": {"y": {"field": "rate", "type": "quantitative", "axis": null}}
            },
            {
              "data": {"name": "b_lines"},
              "mark": {"type": "line", "strokeWidth": 1.4},
              "encoding": {
                "x": {"field": "x_mm", "type": "quantitative", "scale": {"domain": [220, 320], "nice": false, "zero": false}, "axis": {"values": [220, 240, 260, 280, 300, 320], "title": "x (mm)", "titleFontStyle": "italic"}},
                "y": {"field": "rate", "type": "quantitative", "scale": {"domain": [-0.05, 0.1], "nice": false}, "axis": {"values": [-0.05, 0, 0.05, 0.1], "labelExpr": "'' + datum.value", "title": "growth rate"}},
                "color": {"field": "frequency", "type": "nominal", "scale": {"domain": ["high", "low"], "range": ["#ff0000", "#0000ff"]}, "legend": null},
                "strokeDash": {"field": "vortex", "type": "nominal", "scale": {"domain": ["V1", "V2"], "range": [[1, 0], [6, 4]]}, "legend": null}
              }
            },
            {
              "data": {"name": "b_markers"},
              "mark": {"type": "point", "shape": "circle", "filled": false, "size": 75, "strokeWidth": 1.6, "color": "#0000ff"},
              "encoding": {
                "x": {"field": "x_mm", "type": "quantitative", "axis": null},
                "y": {"field": "rate", "type": "quantitative", "axis": null}
              }
            },
            {
              "data": {"name": "b_label"},
              "mark": {"type": "text", "align": "left", "baseline": "middle", "fontSize": 23, "fontStyle": "italic", "font": "Liberation Serif", "color": "#111"},
              "encoding": {
                "x": {"field": "x_mm", "type": "quantitative", "axis": {"orient": "top", "labels": false, "title": null, "values": [220, 240, 260, 280, 300, 320]}},
                "y": {"field": "rate", "type": "quantitative", "axis": {"orient": "right", "labels": false, "title": null, "values": [-0.05, 0, 0.05, 0.1]}},
                "text": {"field": "label"}
              }
            }
          ],
          "resolve": {"axis": {"x": "independent", "y": "independent"}}
        }
      ]
    }
  ],
  "spacing": 7
}
